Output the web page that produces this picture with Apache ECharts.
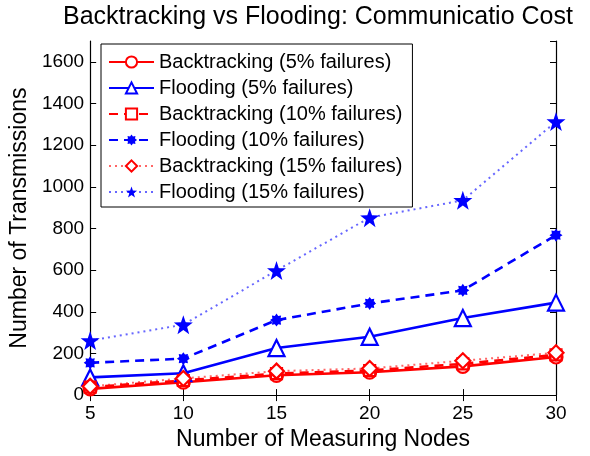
<!DOCTYPE html>
<html>
<head>
<meta charset="utf-8">
<script src="https://cdn.jsdelivr.net/npm/echarts@6/dist/echarts.min.js"></script>
<style>
  html, body { margin: 0; padding: 0; background: #fff; }
  #chart { width: 590px; height: 456px; }
</style>
</head>
<body>
<div id="chart"></div>
<script>
var nodes = [5, 10, 15, 20, 25, 30];
var back5 = [30, 62, 95, 110, 138, 183];
var flood5 = [85, 105, 226, 280, 370, 444];
var back10 = [38, 70, 103, 118, 150, 193];
var flood10 = [155, 175, 360, 440, 503, 768];
var back15 = [42, 80, 115, 128, 165, 203];
var flood15 = [262, 338, 598, 852, 935, 1313];
var yTicks = [0, 200, 400, 600, 800, 1000, 1200, 1400, 1600];

var font = 'Liberation Sans, Arial, sans-serif';

// star shaped symbol paths (pentagram, blob-ish asterisk)
function starPath(n, rIn) {
  var s = 'path://';
  for (var i = 0; i < n * 2; i++) {
    var r = i % 2 === 0 ? 100 : 100 * rIn;
    var a = Math.PI * i / n - Math.PI / 2;
    s += (i === 0 ? 'M' : 'L') + (r * Math.cos(a)).toFixed(2) + ',' + (r * Math.sin(a)).toFixed(2);
  }
  return s + 'Z';
}
var pentagram = starPath(5, 0.4);
var asterisk = starPath(8, 0.68);

function pts(arr) {
  return nodes.map(function (n, i) { return [n, arr[i]]; });
}

function mk(name, arr, color, type, width, symbol, size, filled, opacity) {
  return {
    name: name,
    type: 'line',
    data: pts(arr),
    symbol: symbol,
    symbolSize: size,
    showAllSymbol: true,
    lineStyle: { color: color, width: width, type: type, opacity: opacity || 1, cap: 'butt' },
    itemStyle: { color: filled ? color : '#fff', borderColor: color, borderWidth: filled ? 0 : 2.2 },
    emphasis: { disabled: true },
    z: 3
  };
}

var chart = echarts.init(document.getElementById('chart'));

var option = {
  animation: false,
  backgroundColor: '#fff',
  title: {
    text: 'Backtracking vs Flooding: Communicatio Cost',
    left: 58,
    top: 0,
    textStyle: { fontFamily: font, fontSize: 25, fontWeight: 'normal', color: '#000' }
  },
  legend: {
    orient: 'vertical',
    left: 101,
    top: 44,
    padding: [8, 10, 5, 7],
    itemWidth: 45,
    itemHeight: 14,
    itemGap: 6,
    borderColor: '#000',
    borderWidth: 1,
    backgroundColor: '#fff',
    textStyle: { fontFamily: font, fontSize: 20, color: '#000' },
    data: ['Backtracking (5% failures)', 'Flooding (5% failures)', 'Backtracking (10% failures)',
      'Flooding (10% failures)', 'Backtracking (15% failures)', 'Flooding (15% failures)']
  },
  grid: { left: 89, right: 34, top: 41, bottom: 54 },
  xAxis: [{
    type: 'value',
    min: 5, max: 30, interval: 5,
    name: 'Number of Measuring Nodes',
    nameLocation: 'middle',
    nameGap: 26,
    nameTextStyle: { fontFamily: font, fontSize: 23, color: '#000' },
    axisLine: { lineStyle: { color: '#000', width: 1.2 } },
    axisTick: { inside: true, length: 6, lineStyle: { color: '#000' } },
    axisLabel: { fontFamily: font, fontSize: 19, color: '#000', margin: 9 },
    splitLine: { show: false }
  }, {
    type: 'value',
    position: 'top',
    min: 5, max: 30, interval: 5,
    axisLine: { lineStyle: { color: '#000', width: 1.2 } },
    axisTick: { inside: true, length: 6, lineStyle: { color: '#000' } },
    axisLabel: { show: false },
    splitLine: { show: false }
  }],
  yAxis: [{
    type: 'value',
    min: yTicks[0], max: 1700, interval: yTicks[1] - yTicks[0],
    name: 'Number of Transmissions',
    nameLocation: 'middle',
    nameGap: 54,
    nameTextStyle: { fontFamily: font, fontSize: 23, color: '#000' },
    axisLine: { show: true, lineStyle: { color: '#000', width: 1.2 } },
    axisTick: { show: true, inside: true, length: 6, lineStyle: { color: '#000' } },
    axisLabel: {
      fontFamily: font, fontSize: 19, color: '#000', margin: 6, showMaxLabel: false,
      formatter: function (v) { return String(v); }
    },
    splitLine: { show: false }
  }, {
    type: 'value',
    position: 'right',
    min: yTicks[0], max: 1700, interval: yTicks[1] - yTicks[0],
    axisLine: { show: true, lineStyle: { color: '#000', width: 1.2 } },
    axisTick: { show: true, inside: true, length: 6, lineStyle: { color: '#000' } },
    axisLabel: { show: false },
    splitLine: { show: false }
  }],
  series: [
    mk('Backtracking (5% failures)', back5, '#ff0000', 'solid', 2.6, 'circle', 13, false),
    mk('Flooding (5% failures)', flood5, '#0000ff', 'solid', 2.6, 'triangle', 16, false),
    mk('Backtracking (10% failures)', back10, '#ff0000', [9, 6], 2.6, 'rect', 11, false),
    mk('Flooding (10% failures)', flood10, '#0000ff', [9, 6], 2.6, asterisk, 13, true),
    mk('Backtracking (15% failures)', back15, '#ff0000', [2, 4], 2, 'diamond', 15, false, 0.6),
    mk('Flooding (15% failures)', flood15, '#0000ff', [2, 4], 2, pentagram, 19, true, 0.6)
  ]
};

chart.setOption(option);
</script>
</body>
</html>
